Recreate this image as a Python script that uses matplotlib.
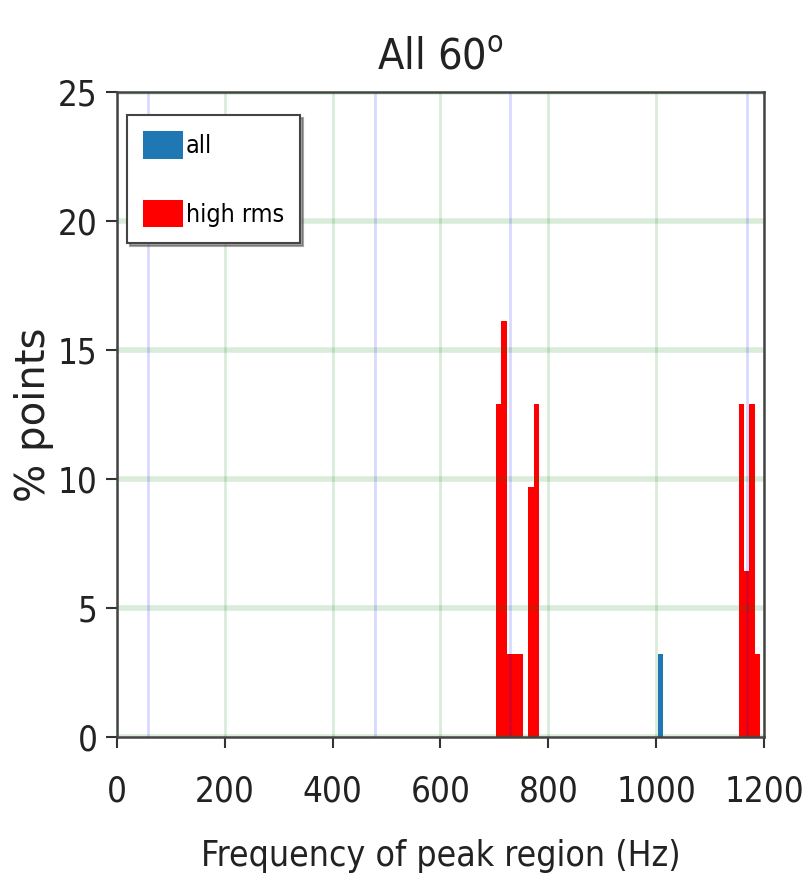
import numpy as np
import matplotlib
matplotlib.use('Agg')
import matplotlib.pyplot as plt

# histogram of peak-region frequencies, 10 Hz bins (left edges in Hz)
bin_width = 10
bin_left = [703, 713, 723, 733, 743, 763, 773, 1003, 1153, 1163, 1173, 1183]
all_counts = [4, 5, 1, 1, 1, 3, 4, 1, 4, 2, 4, 1]
high_rms_counts = [4, 5, 1, 1, 1, 3, 4, 0, 4, 2, 4, 1]
n_points = 31

# reference frequencies marked on the plot (Hz)
ref_freqs = [58, 479, 729, 1169]

plt.rcParams['font.family'] = ['DejaVu Sans']
plt.rcParams['font.stretch'] = 'condensed'
plt.rcParams['mathtext.fontset'] = 'dejavusans'

all_pct = 100 * np.array(all_counts) / n_points
high_pct = 100 * np.array(high_rms_counts) / n_points

fig = plt.figure(figsize=(8.1, 8.92), dpi=100)
ax = fig.add_axes([0.1444, 0.1738, 0.7988, 0.7231])

ax.bar(bin_left, all_pct, width=bin_width, align='edge', color='#1f77b4', label='all')
ax.bar(bin_left, high_pct, width=bin_width, align='edge', color='red', label='high rms')

for f in ref_freqs:
    ax.axvline(f, color='b', alpha=0.15, lw=2)

ax.xaxis.grid(True, color='g', alpha=0.15, lw=2)
ax.yaxis.grid(True, color='g', alpha=0.15, lw=4)

ax.set_xlim(0, 1200)
ax.set_ylim(0, 25)
ax.set_xticks(np.arange(0, 1201, 200))
ax.set_yticks(np.arange(0, 26, 5))
ax.tick_params(labelsize=25, length=8, width=1.5, colors='#333333', labelcolor='#222222')
ax.tick_params(axis='x', pad=19)
ax.tick_params(axis='y', pad=6)
for s in ax.spines.values():
    s.set_color('#444444')
    s.set_linewidth(1.8)

ax.set_title('All 60$^\\mathrm{o}$', fontsize=31, pad=16, color='#222222')
ax.set_xlabel('Frequency of peak region (Hz)', fontsize=25.5, color='#222222')
ax.xaxis.set_label_coords(0.5, -0.158)
ax.set_ylabel('% points', fontsize=29, fontstretch='normal', color='#222222')
ax.yaxis.set_label_coords(-0.098, 0.5)

leg = ax.legend(loc='upper left', bbox_to_anchor=(0.0155, 0.964), borderaxespad=0,
                fontsize=18, handlelength=1.6, handleheight=1.3, handletextpad=0.1,
                labelspacing=1.65, borderpad=0.65, fancybox=False, shadow=True,
                framealpha=1, edgecolor='#444444')
leg.get_frame().set_linewidth(1.5)

fig.savefig('out.png', dpi=100)
